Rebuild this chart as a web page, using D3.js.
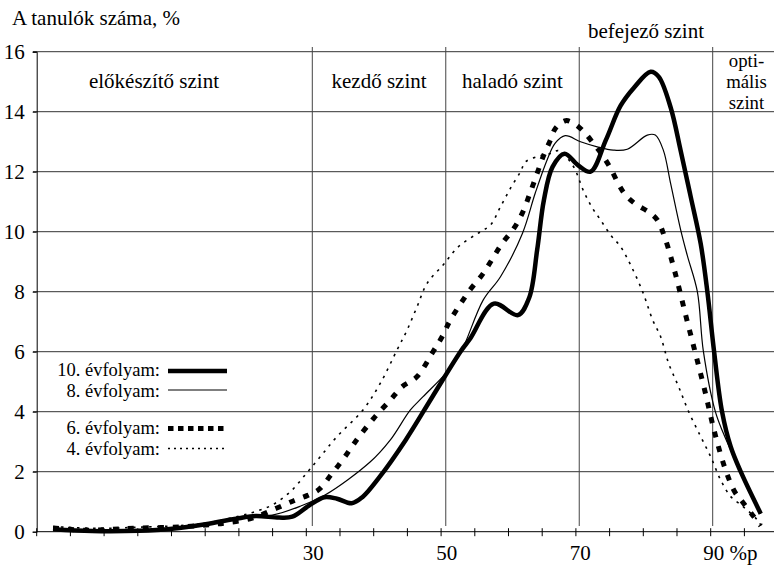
<!DOCTYPE html>
<html><head><meta charset="utf-8">
<script src="https://cdn.jsdelivr.net/npm/d3@7"></script>
<style>body{margin:0;background:#fff}svg{display:block}</style>
</head><body>
<script>
// ---- data ----
const yTicks = [0, 2, 4, 6, 8, 10, 12, 14, 16];
const levelBounds = [30, 50, 70, 90];
const xLabels = ["30", "50", "70", "90"];
const xMinorTicks = [-11.3, -6.25, -1.2, 3.85, 8.9, 13.95, 19, 24.05, 29.1, 34.15, 39.2, 44.25, 49.3, 54.35, 59.4, 64.45, 69.5, 74.55, 79.6, 84.65, 89.7, 94.75];
const levelNames = ["előkészítő szint", "kezdő szint", "haladó szint", "befejező szint"];
const optimalName = ["opti-", "mális", "szint"];
const seriesNames = ["10. évfolyam:", "8. évfolyam:", "6. évfolyam:", "4. évfolyam:"];

const x10 = [-8.85, -3, 4, 9, 14, 19, 21.5, 25, 27, 29.5, 31.8, 33.7, 35.9, 37.5, 40, 44, 48, 52.2, 53.7, 57.2, 60.8, 62.5, 63.7, 64.7, 66, 67.8, 69.8, 71.7, 74, 76.2, 78.2, 80.7, 81.9, 83.7, 85.2, 86.7, 88.2, 89.2, 90.2, 91.4, 92.7, 94.2, 97.2];
const y10 = [0.08, 0.02, 0.03, 0.1, 0.25, 0.45, 0.52, 0.47, 0.5, 0.87, 1.15, 1.1, 0.95, 1.15, 1.8, 3.06, 4.5, 6.0, 6.45, 7.6, 7.22, 7.8, 9.4, 11.05, 12.16, 12.6, 12.22, 12.0, 13.06, 14.2, 14.8, 15.33, 15.17, 14.14, 12.7, 11.17, 9.6, 8.0, 6.02, 4.0, 2.83, 2.0, 0.6];

const x8 = [-8.85, -1.8, 3.9, 9, 14, 19, 24, 28.2, 31.9, 38.7, 41.7, 44.7, 46.6, 50.2, 52.2, 55.6, 58.2, 61.5, 63.4, 65.2, 66.4, 67.9, 70.2, 72.7, 75.1, 77.2, 80.2, 81.4, 82.6, 83.7, 85.2, 86.2, 87.7, 88.6, 90.4, 91.6, 92.7, 97.2];
const y8 = [0.12, 0.03, 0.05, 0.12, 0.25, 0.45, 0.55, 0.85, 1.22, 2.33, 3.06, 4.06, 4.5, 5.33, 5.95, 7.72, 8.5, 9.95, 11.28, 12.4, 12.95, 13.2, 13.0, 12.83, 12.72, 12.75, 13.22, 13.22, 12.72, 11.6, 10.06, 9.2, 8.0, 6.02, 4.0, 3.28, 2.72, 0.6];

const x6 = [-8.85, -4, 0, 4, 9, 14, 17.2, 21, 24.6, 27.3, 29.3, 31, 32.95, 34.7, 36.45, 39.2, 41.7, 43.45, 45.7, 47.95, 49.45, 50.7, 53.7, 55.45, 56.95, 58.45, 60.2, 61.45, 62.7, 63.7, 64.7, 65.7, 66.45, 67.95, 69.2, 70.7, 72.2, 73.45, 74.7, 75.95, 76.95, 78.45, 80.45, 81.7, 82.95, 84.45, 85.95, 87.35, 88.8, 90.3, 91.85, 93.3, 94.45, 95.95, 97.2];
const y6 = [0.12, 0.05, 0.08, 0.12, 0.15, 0.22, 0.3, 0.45, 0.78, 1.04, 1.21, 1.41, 1.94, 2.44, 3.0, 3.78, 4.39, 4.83, 5.17, 5.95, 6.5, 7.06, 8.08, 8.56, 9.08, 9.61, 10.11, 10.61, 11.33, 11.95, 12.56, 13.06, 13.45, 13.7, 13.61, 13.33, 12.92, 12.56, 12.11, 11.56, 11.22, 10.92, 10.65, 10.39, 9.72, 8.56, 7.22, 6.0, 4.72, 3.3, 2.11, 1.33, 1.0, 0.56, 0.2];

const x4 = [-8.85, -1.8, 3.9, 9, 14, 19, 21.45, 24, 26.7, 29.1, 31.2, 33.7, 37.6, 40.2, 42.7, 44.2, 45.7, 47.2, 49.6, 51.9, 55.2, 56.7, 58.2, 59.7, 61.2, 61.95, 63.7, 65.7, 66.9, 69.0, 70.7, 72.0, 73.2, 74.7, 76.2, 77.7, 79.5, 81.0, 82.2, 83.4, 84.9, 86.4, 88.2, 89.7, 91.2, 92.7, 94.6, 96.7, 97.6];
const y4 = [0.17, 0.11, 0.15, 0.19, 0.28, 0.52, 0.67, 0.89, 1.33, 1.94, 2.5, 3.17, 4.06, 4.95, 6.06, 6.72, 7.5, 8.28, 8.89, 9.5, 10.0, 10.22, 10.83, 11.45, 12.0, 12.33, 12.5, 12.61, 12.7, 12.22, 11.33, 10.78, 10.39, 9.89, 9.5, 8.89, 8.0, 7.06, 6.5, 5.61, 4.83, 4.0, 3.17, 2.5, 1.72, 1.17, 0.83, 0.39, 0.05];

// ---- drawing ----
const W = 774, H = 566;
const FONT = '"Liberation Serif"';
const FS = 21;
const svg = d3.select("body").append("svg").attr("width", W).attr("height", H)
  .attr("font-family", FONT);
svg.append("rect").attr("width", W).attr("height", H).attr("fill", "#fff");

const x = d3.scaleLinear().domain([-11.3, 90]).range([36.7, 712.7]);
const y = d3.scaleLinear().domain([0, 16]).range([531.7, 51.7]);

// horizontal grid
svg.append("g").selectAll("line").data(yTicks.filter(d => d > 0)).join("line")
  .attr("x1", 33).attr("x2", W).attr("y1", d => y(d)).attr("y2", d => y(d))
  .attr("stroke", "#333").attr("stroke-width", 1);
// level boundaries
svg.append("g").selectAll("line").data(levelBounds).join("line")
  .attr("x1", d => x(d)).attr("x2", d => x(d)).attr("y1", 47).attr("y2", 526)
  .attr("stroke", "#444").attr("stroke-width", 1);

// y axis
const yAxis = d3.axisLeft(y).tickValues(yTicks).tickSize(4).tickPadding(8).tickFormat(d3.format("d"));
const gy = svg.append("g").attr("transform", `translate(${x(-11.3)},0)`).call(yAxis);
gy.attr("font-family", FONT).attr("font-size", FS);
gy.select(".domain").attr("stroke", "#000");
gy.selectAll(".tick line").attr("stroke", "#000");
gy.selectAll("text").attr("fill", "#000").attr("font-family", FONT).attr("dy", "0.34em");

// x axis line + minor ticks
svg.append("line").attr("x1", x(-11.3)).attr("x2", W).attr("y1", y(0)).attr("y2", y(0)).attr("stroke", "#000");
svg.append("g").selectAll("line").data(xMinorTicks).join("line")
  .attr("x1", d => x(d)).attr("x2", d => x(d)).attr("y1", y(0) - 3.5).attr("y2", y(0) + 4.5)
  .attr("stroke", "#000");
svg.append("g").selectAll("text").data(levelBounds).join("text")
  .attr("font-family", FONT)
  .attr("x", (d, i) => i === 3 ? x(d) - 9.5 : x(d) + 1)
  .attr("y", 560).attr("font-size", FS)
  .attr("text-anchor", (d, i) => i === 3 ? "start" : "middle")
  .text((d, i) => i === 3 ? xLabels[i] + " %p" : xLabels[i]);

// titles / level names
svg.append("text").attr("font-family", FONT).attr("x", 12).attr("y", 25).attr("font-size", FS).text("A tanulók száma, %");
const levelX = [154, (x(30) + x(50)) / 2, (x(50) + x(70)) / 2, (x(70) + x(90)) / 2];
const levelY = [88, 88, 88, 38];
svg.append("g").selectAll("text").data(levelNames).join("text")
  .attr("font-family", FONT)
  .attr("x", (d, i) => levelX[i]).attr("y", (d, i) => levelY[i])
  .attr("text-anchor", "middle").attr("font-size", FS).text(d => d);
svg.append("g").selectAll("text").data(optimalName).join("text")
  .attr("font-family", FONT)
  .attr("x", 746.5).attr("y", (d, i) => 67 + i * 21)
  .attr("text-anchor", "middle").attr("font-size", 18.8).text(d => d);

// curves
const line = d3.line().x(d => x(d[0])).y(d => y(d[1])).curve(d3.curveCatmullRom.alpha(0.5));
const zip = (a, b) => a.map((v, i) => [v, b[i]]);
const styles = [
  {w: 4.5, dash: null},
  {w: 1.2, dash: null},
  {w: 5, dash: "6,9"},
  {w: 1.6, dash: "2.5,5.5"}
];
const series = [zip(x4, y4), zip(x6, y6), zip(x8, y8), zip(x10, y10)];
const styleIdx = [3, 2, 1, 0];
series.forEach((s, k) => {
  const st = styles[styleIdx[k]];
  svg.append("path").attr("d", line(s)).attr("fill", "none").attr("stroke", "#000")
    .attr("stroke-width", st.w).attr("stroke-dasharray", st.dash)
    .attr("stroke-linejoin", "round");
});

// legend
const legY = [371, 390, 428.5, 448.5];
const legTextY = [376, 396.5, 434, 454.5];
const legDash = [null, null, "5.5,4.5", "2,4"];
const lg = svg.append("g");
seriesNames.forEach((n, i) => {
  lg.append("text").attr("font-family", FONT).attr("font-size", 18.5)
    .attr("x", 160).attr("y", legTextY[i]).attr("text-anchor", "end").text(n);
  lg.append("line").attr("x1", 168).attr("x2", 227).attr("y1", legY[i]).attr("y2", legY[i])
    .attr("stroke", "#000").attr("stroke-width", styles[i].w).attr("stroke-dasharray", legDash[i]);
});
</script>
</body></html>
